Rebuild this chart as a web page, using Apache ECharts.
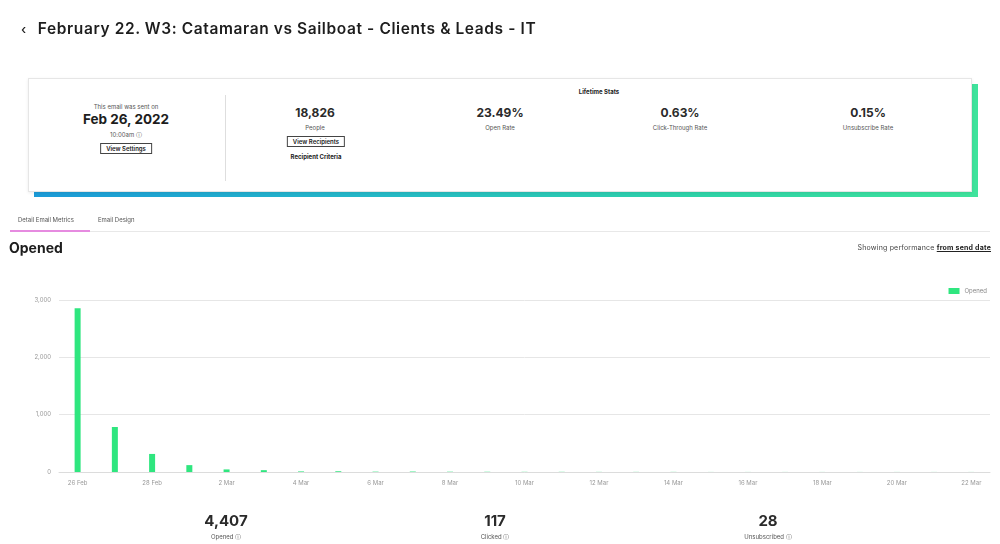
<!DOCTYPE html>
<html>
<head>
<meta charset="utf-8">
<script src="https://cdn.jsdelivr.net/npm/echarts@6/dist/echarts.min.js"></script>
<style>
  html, body { margin: 0; padding: 0; background: #fff; }
  body { width: 1000px; height: 544px; position: relative; overflow: hidden; font-family: Inter, "Noto Sans", sans-serif; color: #222; }
  #chart { position: absolute; left: 0; top: 0; width: 1000px; height: 544px; }
  .abs { position: absolute; white-space: nowrap; }
  .c { transform: translateX(-50%); text-align: center; }
  .title { left: 21px; top: 19px; font-size: 15.5px; font-weight: 600; letter-spacing: 0.6px; color: #1d1d1d; }
  .title .chev { font-size: 13px; font-weight: 500; margin-right: 11px; }
  .card-accent { left: 34px; top: 84px; width: 944px; height: 113px; background: linear-gradient(90deg, #1c9bd8 0%, #25b8c8 35%, #2fd3a8 70%, #3fe39c 100%); }
  .card { left: 28px; top: 78px; width: 944px; height: 114px; background: #fff; border: 1px solid #e6e6e6; box-sizing: border-box; box-shadow: 0 1px 3px rgba(0,0,0,0.08); }
  .divider { left: 225px; top: 95px; width: 1px; height: 86px; background: #dedede; }
  .tiny { font-size: 6px; color: #555; }
  .big { font-size: 13.5px; font-weight: 700; color: #1d1d1d; }
  .stat { font-size: 12px; font-weight: 700; color: #2a2a2a; }
  .btn { font-size: 6px; font-weight: 600; color: #222; border: 1px solid #444; padding: 1px 5px; }
  .bold6 { font-size: 6px; font-weight: 700; color: #222; }
  .tabline { left: 10px; top: 231px; width: 980px; height: 1px; background: #e8e8e8; }
  .tabactive { left: 10px; top: 230px; width: 80px; height: 2px; background: #e68be0; }
  .h2 { left: 9px; top: 239px; font-size: 14px; font-weight: 700; color: #1d1d1d; }
  .perf { right: 9px; top: 243px; font-size: 7px; letter-spacing: 0.2px; color: #444; }
  .perf b { text-decoration: underline; color: #222; }
  .foot { font-size: 15px; font-weight: 700; color: #2a2a2a; }
</style>
</head>
<body>
<div id="chart"></div>

<div class="abs title"><span class="chev">‹</span>February 22. W3: Catamaran vs Sailboat - Clients &amp; Leads - IT</div>

<div class="abs card-accent"></div>
<div class="abs card"></div>
<div class="abs divider"></div>

<div class="abs c tiny" style="left:126px; top:103px;">This email was sent on</div>
<div class="abs c big" style="left:126px; top:111px;">Feb 26, 2022</div>
<div class="abs c tiny" style="left:126px; top:131px;">10:00am ⓘ</div>
<div class="abs c btn" style="left:126px; top:143px;">View Settings</div>

<div class="abs c bold6" style="left:599px; top:88px;">Lifetime Stats</div>

<div class="abs c stat" style="left:315px; top:105px;">18,826</div>
<div class="abs c tiny" style="left:315px; top:124px;">People</div>
<div class="abs c btn" style="left:316px; top:136px;">View Recipients</div>
<div class="abs c bold6" style="left:316px; top:153px;">Recipient Criteria</div>

<div class="abs c stat" style="left:500px; top:105px;">23.49%</div>
<div class="abs c tiny" style="left:500px; top:124px;">Open Rate</div>

<div class="abs c stat" style="left:680px; top:105px;">0.63%</div>
<div class="abs c tiny" style="left:680px; top:124px;">Click-Through Rate</div>

<div class="abs c stat" style="left:868px; top:105px;">0.15%</div>
<div class="abs c tiny" style="left:868px; top:124px;">Unsubscribe Rate</div>

<div class="abs tiny" style="left:18px; top:216px;">Detail Email Metrics</div>
<div class="abs tiny" style="left:98px; top:216px;">Email Design</div>
<div class="abs tabline"></div>
<div class="abs tabactive"></div>

<div class="abs h2">Opened</div>
<div class="abs perf">Showing performance <b>from send date</b></div>

<div class="abs c foot" style="left:226px; top:511px;">4,407</div>
<div class="abs c tiny" style="left:226px; top:533px;">Opened ⓘ</div>
<div class="abs c foot" style="left:495px; top:511px;">117</div>
<div class="abs c tiny" style="left:495px; top:533px;">Clicked ⓘ</div>
<div class="abs c foot" style="left:768px; top:511px;">28</div>
<div class="abs c tiny" style="left:768px; top:533px;">Unsubscribed ⓘ</div>

<script>
// Daily opens after the send date
const days = [
  '26 Feb', '27 Feb', '28 Feb', '1 Mar', '2 Mar', '3 Mar', '4 Mar', '5 Mar', '6 Mar',
  '7 Mar', '8 Mar', '9 Mar', '10 Mar', '11 Mar', '12 Mar', '13 Mar', '14 Mar', '15 Mar',
  '16 Mar', '17 Mar', '18 Mar', '19 Mar', '20 Mar', '21 Mar', '22 Mar'
];
const opened = [2855, 785, 315, 120, 45, 32, 10, 13, 6, 8, 5, 4, 3, 3, 2, 2, 2, 1, 1, 1, 1, 1, 1, 1, 1];
const yTicks = { min: 0, max: 3000, interval: 1000 };

const chart = echarts.init(document.getElementById('chart'), null, { renderer: 'canvas' });
chart.setOption({
  animation: false,
  legend: {
    right: 8,
    top: 283,
    itemWidth: 11,
    itemHeight: 6,
    itemGap: 4,
    icon: 'rect',
    textStyle: { fontSize: 6, color: '#888', fontFamily: 'Inter, sans-serif' },
    data: ['Opened']
  },
  grid: { left: 59, right: 10, top: 300, bottom: 72, containLabel: false },
  xAxis: {
    type: 'category',
    data: days,
    boundaryGap: true,
    axisLine: { lineStyle: { color: '#dcdcdc' } },
    axisTick: { show: false },
    axisLabel: { interval: 1, fontSize: 6, color: '#999', margin: 8, fontFamily: 'Inter, sans-serif' }
  },
  yAxis: {
    type: 'value',
    min: yTicks.min,
    max: yTicks.max,
    interval: yTicks.interval,
    axisLine: { show: false },
    axisTick: { show: false },
    splitLine: { lineStyle: { color: '#e6e6e6' } },
    axisLabel: {
      fontSize: 6, color: '#999', margin: 8, fontFamily: 'Inter, sans-serif',
      formatter: v => v.toLocaleString('en-US')
    }
  },
  series: [{
    name: 'Opened',
    type: 'bar',
    data: opened,
    barWidth: 6,
    itemStyle: { color: '#2fe67f' }
  }]
});
</script>
</body>
</html>
